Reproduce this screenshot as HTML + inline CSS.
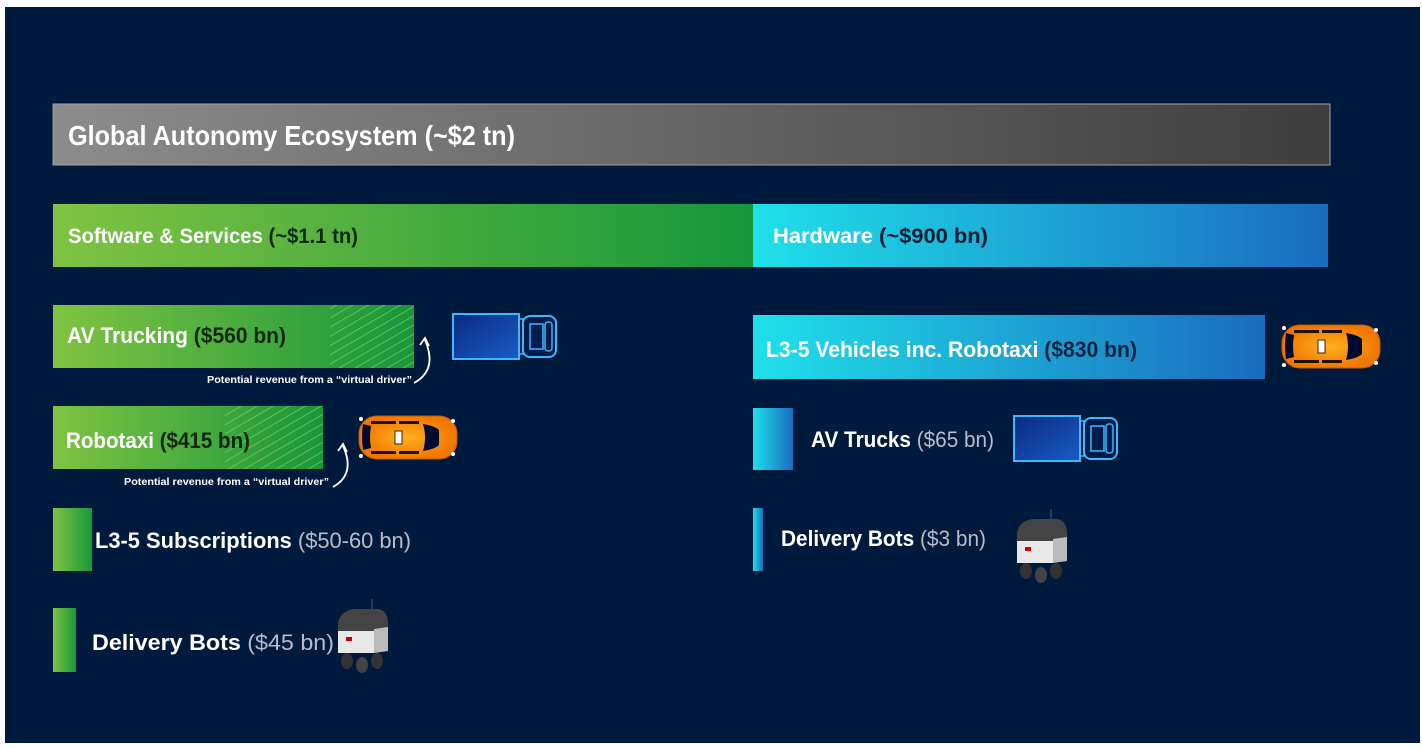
<!DOCTYPE html>
<html><head><meta charset="utf-8"><style>
html,body{margin:0;padding:0;background:#fff;width:1422px;height:748px;overflow:hidden}
svg{display:block}
text{font-family:"Liberation Sans",sans-serif;font-weight:bold}
</style></head><body>
<svg width="1422" height="748" viewBox="0 0 1422 748" xmlns="http://www.w3.org/2000/svg">
<defs>
<linearGradient id="gGray" x1="0" x2="1"><stop offset="0" stop-color="#8c8c8c"/><stop offset="1" stop-color="#3e3e3e"/></linearGradient>
<linearGradient id="gGreen" x1="0" x2="1"><stop offset="0" stop-color="#80c342"/><stop offset="1" stop-color="#16973b"/></linearGradient>
<linearGradient id="gBlue" x1="0" x2="1"><stop offset="0" stop-color="#1fe0ea"/><stop offset="1" stop-color="#1a6cbf"/></linearGradient>
<linearGradient id="gTruck" x1="0" y1="0" x2="1" y2="1"><stop offset="0" stop-color="#0a2a80"/><stop offset="1" stop-color="#1a5cc8"/></linearGradient>
<radialGradient id="gCar"><stop offset="0" stop-color="#ffb020"/><stop offset="1" stop-color="#f07800"/></radialGradient>
<pattern id="hatch" width="8" height="8" patternUnits="userSpaceOnUse" patternTransform="rotate(-30)">
<line x1="0" y1="0" x2="8" y2="0" stroke="#a8e070" stroke-width="1.2"/></pattern>
<g id="car">
<rect x="2" y="2" width="98" height="43" rx="18" fill="url(#gCar)" stroke="#c85a00" stroke-width="1"/>
<path d="M6 10 Q4 23 6 36 L14 34 Q12 23 14 12 Z" fill="#000a30"/>
<path d="M66 10 Q78 12 82 16 L82 31 Q78 35 66 37 Q70 23 66 10Z" fill="#000a30"/>
<rect x="14" y="7" width="25" height="3" fill="#201000"/><rect x="42" y="7" width="20" height="3" fill="#201000"/>
<rect x="14" y="37" width="25" height="3" fill="#201000"/><rect x="42" y="37" width="20" height="3" fill="#201000"/>
<rect x="38" y="17" width="7" height="13" fill="#fff" stroke="#402000"/>
<circle cx="96" cy="7" r="2" fill="#fff"/><circle cx="96" cy="40" r="2" fill="#fff"/>
<circle cx="4" cy="5" r="2" fill="#fff"/><circle cx="4" cy="42" r="2" fill="#fff"/>
</g>
<g id="truck">
<rect x="1" y="1" width="66" height="45" fill="url(#gTruck)" stroke="#3cb8ff" stroke-width="2"/>
<rect x="67" y="6" width="4" height="35" fill="none" stroke="#3cb8ff" stroke-width="1.5"/>
<rect x="71" y="3" width="33" height="41" rx="7" fill="#001a4a" stroke="#3cb8ff" stroke-width="2"/>
<rect x="78" y="11" width="13" height="25" fill="none" stroke="#3cb8ff" stroke-width="1.5"/>
<rect x="93" y="9" width="7" height="29" rx="3" fill="none" stroke="#3cb8ff" stroke-width="1.5"/>
</g>
<g id="bot">
<ellipse cx="13" cy="58" rx="6" ry="8" fill="#333"/><ellipse cx="28" cy="62" rx="6" ry="8" fill="#444"/><ellipse cx="43" cy="58" rx="6" ry="8" fill="#333"/>
<path d="M4 20 Q6 8 20 6 L44 6 Q54 8 54 20 L54 48 L4 48 Z" fill="#444"/>
<path d="M4 28 L40 28 L40 50 L4 50 Z" fill="#e8e8e8"/>
<path d="M40 26 L54 24 L54 48 L40 50 Z" fill="#bbb"/>
<rect x="12" y="34" width="6" height="4" fill="#c00"/>
<line x1="38" y1="6" x2="38" y2="-4" stroke="#555"/>
</g>
</defs>
<rect x="5" y="7" width="1415" height="736" fill="#001a3e"/>

<rect x="53" y="104" width="1277" height="61" fill="url(#gGray)" stroke="#a0a0a0" stroke-width="1"/>
<text x="68" y="145" font-size="28" fill="#fff" textLength="447" lengthAdjust="spacingAndGlyphs">Global Autonomy Ecosystem (~$2 tn)</text>

<rect x="53" y="204" width="700" height="63" fill="url(#gGreen)"/>
<text x="68" y="243" font-size="21" textLength="290" lengthAdjust="spacingAndGlyphs"><tspan fill="#fff">Software &amp; Services </tspan><tspan fill="#0e2a10">(~$1.1 tn)</tspan></text>
<rect x="753" y="204" width="575" height="63" fill="url(#gBlue)"/>
<text x="773" y="243" font-size="21" textLength="215" lengthAdjust="spacingAndGlyphs"><tspan fill="#fff">Hardware </tspan><tspan fill="#0a1a30">(~$900 bn)</tspan></text>

<rect x="53" y="305" width="361" height="63" fill="url(#gGreen)"/>
<rect x="330" y="305" width="84" height="63" fill="url(#hatch)" opacity="0.8"/>
<text x="67" y="343" font-size="22" textLength="219" lengthAdjust="spacingAndGlyphs"><tspan fill="#fff">AV Trucking </tspan><tspan fill="#14260c">($560 bn)</tspan></text>
<text x="207" y="383" font-size="10" fill="#fff" font-weight="normal" textLength="205" lengthAdjust="spacingAndGlyphs">Potential revenue from a “virtual driver”</text>
<path d="M414 383 Q438 370 425 340 M420 345 L425 338 L429 346" fill="none" stroke="#fff" stroke-width="1.8"/>
<use href="#truck" x="452" y="313"/>

<rect x="53" y="406" width="270" height="63" fill="url(#gGreen)"/>
<rect x="225" y="406" width="98" height="63" fill="url(#hatch)" opacity="0.8"/>
<text x="66" y="448" font-size="22" textLength="184" lengthAdjust="spacingAndGlyphs"><tspan fill="#fff">Robotaxi </tspan><tspan fill="#14260c">($415 bn)</tspan></text>
<text x="124" y="485" font-size="10" fill="#fff" font-weight="normal" textLength="205" lengthAdjust="spacingAndGlyphs">Potential revenue from a “virtual driver”</text>
<path d="M333 487 Q356 474 343 446 M338 451 L343 444 L347 452" fill="none" stroke="#fff" stroke-width="1.8"/>
<use href="#car" x="357" y="414"/>

<rect x="53" y="508" width="39" height="63" fill="url(#gGreen)"/>
<text x="95" y="548" font-size="22" textLength="316" lengthAdjust="spacingAndGlyphs"><tspan fill="#fff">L3-5 Subscriptions </tspan><tspan fill="#b8bcc8" font-weight="normal">($50-60 bn)</tspan></text>

<rect x="53" y="608" width="23" height="64" fill="url(#gGreen)"/>
<text x="92" y="650" font-size="22" textLength="242" lengthAdjust="spacingAndGlyphs"><tspan fill="#fff">Delivery Bots </tspan><tspan fill="#b8bcc8" font-weight="normal">($45 bn)</tspan></text>
<use href="#bot" x="334" y="603"/>

<rect x="753" y="315" width="512" height="64" fill="url(#gBlue)"/>
<text x="766" y="357" font-size="22" textLength="371" lengthAdjust="spacingAndGlyphs"><tspan fill="#fff">L3-5 Vehicles inc. Robotaxi </tspan><tspan fill="#0a2440">($830 bn)</tspan></text>
<use href="#car" x="1280" y="323"/>

<rect x="753" y="408" width="40" height="62" fill="url(#gBlue)"/>
<text x="811" y="447" font-size="22" textLength="183" lengthAdjust="spacingAndGlyphs"><tspan fill="#fff">AV Trucks </tspan><tspan fill="#b8bcc8" font-weight="normal">($65 bn)</tspan></text>
<use href="#truck" x="1013" y="415"/>

<rect x="753" y="508" width="10" height="63" fill="url(#gBlue)"/>
<text x="781" y="546" font-size="22" textLength="205" lengthAdjust="spacingAndGlyphs"><tspan fill="#fff">Delivery Bots </tspan><tspan fill="#b8bcc8" font-weight="normal">($3 bn)</tspan></text>
<use href="#bot" x="1013" y="513"/>
</svg>
</body></html>
